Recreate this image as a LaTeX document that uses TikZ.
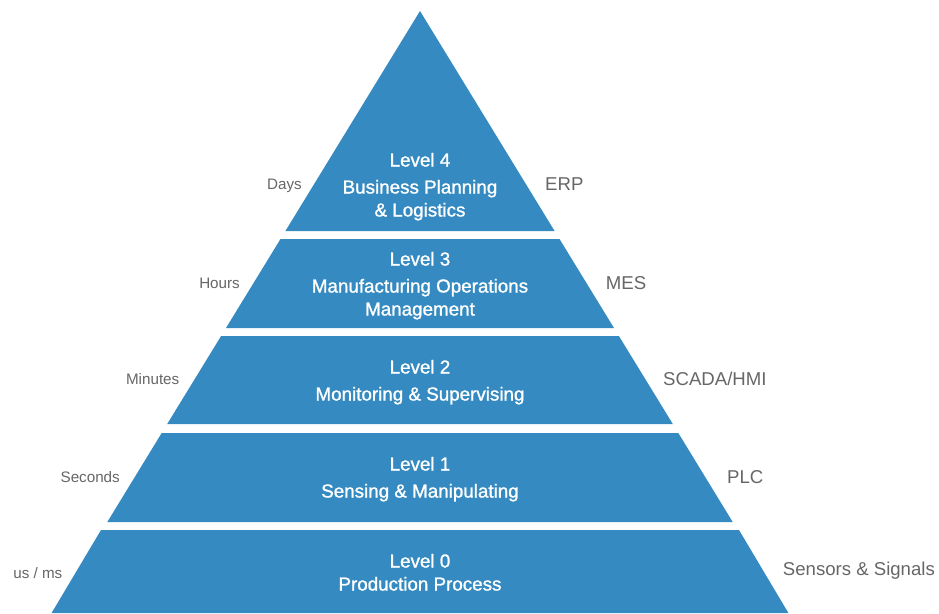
\documentclass[tikz,border=0pt]{standalone}
\usepackage{fontspec}
\setmainfont{Liberation Sans}
\newfontfamily\medfont[FakeBold=1.2]{Liberation Sans}
\definecolor{bandblue}{HTML}{358BC1}
\definecolor{sidegray}{HTML}{666666}
\begin{document}
\begin{tikzpicture}[x=1pt,y=-1pt,
  bandfill/.style={fill=bandblue},
  title/.style={text=white, font=\medfont\fontsize{18.8}{23}\selectfont, align=center, inner sep=0pt, anchor=base},
  lt/.style={text=sidegray, font=\fontsize{15.2}{18}\selectfont, anchor=base east, inner sep=0pt},
  rt/.style={text=sidegray, font=\fontsize{18.6}{22}\selectfont, anchor=base west, inner sep=0pt}]
\useasboundingbox (0,0) rectangle (939,613);
% bands
\fill[bandfill] (420,11) -- (554.6,231) -- (285.4,231) -- cycle;
\fill[bandfill] (280.5,239) -- (559.5,239) -- (614,328) -- (226,328) -- cycle;
\fill[bandfill] (221.1,336) -- (618.9,336) -- (672.8,424) -- (167.2,424) -- cycle;
\fill[bandfill] (161.7,433) -- (678.3,433) -- (732.7,522) -- (107.3,522) -- cycle;
\fill[bandfill] (101,530) -- (739,530) -- (788.4,613) -- (51.6,613) -- cycle;
% titles (anchored at the baseline of the last line)
\node[title] (l4) at (420,216.5) {Level 4\\[4pt]Business Planning\\\& Logistics};
\node[title] (l3) at (420,315.5) {Level 3\\[4pt]Manufacturing Operations\\Management};
\node[title] (l2) at (420,400.5) {Level 2\\[4pt]Monitoring \& Supervising};
\node[title] (l1) at (420,497.5) {Level 1\\[4pt]Sensing \& Manipulating};
\node[title] (l0) at (420,590.5) {Level 0\\[0pt]Production Process};
% left labels
\node[lt] (t4) at (302,189.5) {Days};
\node[lt] (t3) at (240,288.5) {Hours};
\node[lt] (t2) at (179.5,384.5) {Minutes};
\node[lt] (t1) at (120,482.5) {Seconds};
\node[lt] (t0) at (62.5,578) {us / ms};
% right labels
\node[rt] (s4) at (545,190.5) {ERP};
\node[rt] (s3) at (605.7,289) {MES};
\node[rt] (s2) at (663,385.5) {SCADA/HMI};
\node[rt] (s1) at (727,483.5) {PLC};
\node[rt] (s0) at (782.7,575.5) {Sensors \& Signals};
\end{tikzpicture}
\end{document}
